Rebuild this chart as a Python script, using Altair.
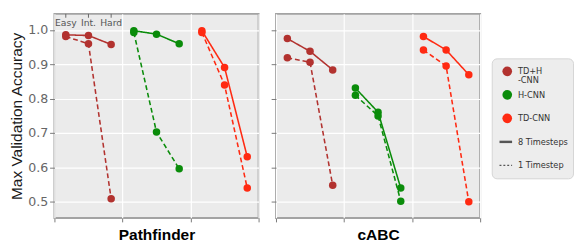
import altair as alt
import pandas as pd

models = ["TD+H-CNN", "H-CNN", "TD-CNN"]
difficulties = ["Easy", "Int.", "Hard"]
timesteps = ["8 Timesteps", "1 Timestep"]
datasets = ["Pathfinder", "cABC"]
colors = ["#B2322F", "#0A8C0A", "#FF2A12"]

# Pathfinder values (Easy, Int., Hard)
pf_tdh_8 = [0.986, 0.984, 0.958]
pf_tdh_1 = [0.981, 0.960, 0.509]
pf_h_8 = [0.998, 0.988, 0.960]
pf_h_1 = [0.993, 0.703, 0.596]
pf_td_8 = [0.998, 0.891, 0.631]
pf_td_1 = [0.993, 0.840, 0.540]
# cABC values (Easy, Int., Hard)
cabc_tdh_8 = [0.975, 0.938, 0.884]
cabc_tdh_1 = [0.919, 0.906, 0.548]
cabc_h_8 = [0.831, 0.761, 0.540]
cabc_h_1 = [0.810, 0.750, 0.502]
cabc_td_8 = [0.981, 0.942, 0.870]
cabc_td_1 = [0.942, 0.895, 0.500]

series = {
    ("Pathfinder", 0, 0): pf_tdh_8, ("Pathfinder", 0, 1): pf_tdh_1,
    ("Pathfinder", 1, 0): pf_h_8, ("Pathfinder", 1, 1): pf_h_1,
    ("Pathfinder", 2, 0): pf_td_8, ("Pathfinder", 2, 1): pf_td_1,
    ("cABC", 0, 0): cabc_tdh_8, ("cABC", 0, 1): cabc_tdh_1,
    ("cABC", 1, 0): cabc_h_8, ("cABC", 1, 1): cabc_h_1,
    ("cABC", 2, 0): cabc_td_8, ("cABC", 2, 1): cabc_td_1,
}

rows = []
for (ds, mi, ti), vals in series.items():
    for di, v in enumerate(vals):
        rows.append({"dataset": ds, "model": models[mi], "mi": mi, "ts": timesteps[ti],
                     "di": di, "difficulty": difficulties[di], "value": v})
df = pd.DataFrame(rows)

top_df = pd.DataFrame({"difficulty": difficulties, "di": list(range(len(difficulties))), "mi": [0] * 3})

W, H = 211, 211
color_scale = alt.Scale(domain=models, range=colors)
xcalc = "datum.mi + (datum.di + 0.5) / 3"


def panel(name, first):
    x = alt.X("xpos:Q",
              scale=alt.Scale(domain=[0, 3], nice=False, zero=False),
              axis=alt.Axis(values=[0, 1, 2, 3], labels=False, title=name, tickSize=4,
                            titleFontWeight="bold", titleColor="#000", titleFontSize=16,
                            titleFont="Liberation Sans", titlePadding=5))
    y = alt.Y("value:Q",
              scale=alt.Scale(domain=[0.453, 1.047], nice=False, zero=False),
              axis=alt.Axis(values=[0.5, 0.6, 0.7, 0.8, 0.9, 1.0], format=".1f",
                            labels=first, tickSize=5, labelPadding=2,
                            title="Max Validation Accuracy" if first else "",
                            titleFontWeight="normal", titleColor="#1a1a1a", titleFontSize=16,
                            titleFont="Liberation Sans", titlePadding=3))
    base = alt.Chart(df).transform_filter(alt.datum.dataset == name).transform_calculate(xpos=xcalc)
    lines = base.mark_line(strokeWidth=1.6).encode(
        x=x, y=y,
        color=alt.Color("model:N", scale=color_scale, legend=None),
        strokeDash=alt.StrokeDash("ts:N", scale=alt.Scale(domain=timesteps, range=[[1, 0], [5, 3]]), legend=None),
        order="di:Q",
    )
    pts = base.mark_circle(size=60, opacity=1).encode(
        x=x, y=y, color=alt.Color("model:N", scale=color_scale, legend=None))
    layers = [lines, pts]
    if first:
        tb = alt.Chart(top_df).transform_calculate(xpos=xcalc)
        layers.append(tb.mark_text(fontSize=9.5, font="DejaVu Sans", color="#555", baseline="middle").encode(
            x=x, y=alt.value(10), text="difficulty:N"))
        layers.append(tb.mark_rule(color="#666", strokeWidth=1).encode(
            x=x, y=alt.value(0), y2=alt.value(4)))
    return alt.layer(*layers).properties(width=W, height=H)


left = panel("Pathfinder", True)
right = panel("cABC", False)

# legend panel
leg_labels = [models[0].replace("+H-", "+H\n-"), models[1], models[2], timesteps[0], timesteps[1]]
leg_df = pd.DataFrame({
    "idx": list(range(5)),
    "label": leg_labels,
    "model": models + ["", ""],
    "kind": ["model"] * 3 + ["ts8", "ts1"],
})
ly = alt.Y("idx:O", axis=None, scale=alt.Scale(type="point", padding=0.55))
lbase = alt.Chart(leg_df)
leg_circ = lbase.transform_filter(alt.datum.kind == "model").mark_circle(size=100, opacity=1).encode(
    x=alt.value(16), y=ly, color=alt.Color("model:N", scale=color_scale, legend=None))
leg_r8 = lbase.transform_filter(alt.datum.kind == "ts8").mark_rule(color="#555", strokeWidth=2.5).encode(
    x=alt.value(8), x2=alt.value(21), y=ly)
leg_r1 = lbase.transform_filter(alt.datum.kind == "ts1").mark_rule(color="#555", strokeWidth=1.3, strokeDash=[2, 2]).encode(
    x=alt.value(8), x2=alt.value(21), y=ly)
leg_txt = lbase.mark_text(align="left", baseline="middle", fontSize=8.5, font="DejaVu Sans",
                          color="#333", lineBreak="\n", lineHeight=9).encode(
    x=alt.value(27), y=ly, text="label:N")
legend = alt.layer(leg_circ, leg_r8, leg_r1, leg_txt).properties(
    width=84, height=124,
    view=alt.ViewBackground(fill="#EDEDED", stroke="#D4D4D4", strokeWidth=1, cornerRadius=5))

spacer = alt.Chart(pd.DataFrame({"a": [0]})).mark_point(opacity=0, size=1).encode(
    x=alt.value(40), y=alt.value(20)).properties(
    width=84, height=44, view=alt.ViewBackground(fill="transparent", stroke="transparent"))

legend_col = alt.vconcat(spacer, legend, spacing=0)

chart = alt.hconcat(left, right, legend_col, spacing=9).properties(
    padding={"left": 0, "top": 0, "right": 0, "bottom": 2}
).configure_view(
    fill="#EBEBEB", stroke="#A3A3A3", strokeWidth=2
).configure_axis(
    domain=False, grid=True, gridColor="#FFFFFF", gridWidth=1.2,
    tickColor="#777", labelColor="#666", labelFont="DejaVu Sans", labelFontSize=13,
)

chart.save("out.html", embed_options={"renderer": "svg", "actions": False})
